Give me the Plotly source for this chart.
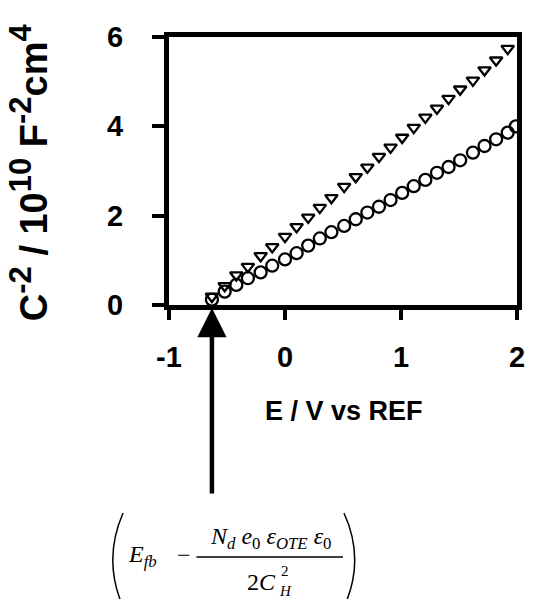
import plotly.graph_objects as go

# Mott-Schottky data: potential (V vs REF) and C^-2 (10^10 F^-2 cm^4)
e_tri = [-0.63, -0.52, -0.42, -0.32, -0.21, -0.11, 0.00, 0.10, 0.20, 0.30, 0.40, 0.51, 0.61,
         0.71, 0.81, 0.91, 1.01, 1.11, 1.21, 1.31, 1.41, 1.51, 1.62, 1.72, 1.82, 1.92]
c_tri = [0.19, 0.43, 0.67, 0.86, 1.10, 1.30, 1.53, 1.75, 1.96, 2.18, 2.40, 2.65, 2.87,
         3.08, 3.32, 3.53, 3.75, 3.97, 4.20, 4.40, 4.62, 4.83, 5.03, 5.26, 5.48, 5.74]

e_circ = [-0.63, -0.52, -0.42, -0.32, -0.21, -0.11, 0.00, 0.10, 0.20, 0.30, 0.40, 0.51, 0.61,
          0.71, 0.81, 0.91, 1.01, 1.11, 1.21, 1.31, 1.41, 1.51, 1.62, 1.72, 1.82, 1.92, 1.99]
c_circ = [0.12, 0.30, 0.45, 0.60, 0.73, 0.88, 1.02, 1.16, 1.33, 1.49, 1.63, 1.77, 1.92,
          2.07, 2.20, 2.35, 2.51, 2.66, 2.80, 2.96, 3.09, 3.24, 3.41, 3.56, 3.71, 3.86, 4.00]

x_ticks = [-1, 0, 1, 2]
y_ticks = [0, 2, 4, 6]

# flat-band potential marked by the arrow
E_FB = -0.63

W, H = 535, 599
PLOT_L, PLOT_R, PLOT_T, PLOT_B = 169, 525, 37, 305


def px(X):
    return (X - PLOT_L) / (PLOT_R - PLOT_L)


def py(Y):
    return (PLOT_B - Y) / (PLOT_B - PLOT_T)


SANS = "Liberation Sans, Arial, sans-serif"
SERIF = "Liberation Serif, Times New Roman, serif"

fig = go.Figure()
fig.add_trace(go.Scatter(
    x=e_circ, y=c_circ, mode="markers",
    marker=dict(symbol="circle-open", size=12, color="black", line=dict(width=2.3, color="black")),
    showlegend=False,
))
fig.add_trace(go.Scatter(
    x=e_tri, y=c_tri, mode="markers",
    marker=dict(symbol="triangle-down-open", size=11, color="black", line=dict(width=2.3, color="black")),
    showlegend=False,
))

axis_common = dict(
    showline=True, linewidth=5, linecolor="black", mirror=True,
    showgrid=False, zeroline=False,
    ticks="outside", tickwidth=4, tickcolor="black",
    tickfont=dict(family=SANS, size=29, color="black", weight="bold"),
)

fig.update_xaxes(range=[-1, 2], tickvals=x_ticks, ticktext=[str(v) for v in x_ticks],
                 ticklen=10, ticklabelstandoff=12, **axis_common)
fig.update_yaxes(range=[0, 6], tickvals=y_ticks, ticktext=[str(v) for v in y_ticks],
                 ticklen=12, ticklabelstandoff=23, **axis_common)


def sup(t):
    return f"<sup><span style='font-size:31px'>{t}</span></sup>"


y_title = f"<b>C{sup('-2')} / 10{sup('10')} F{sup('-2')}cm{sup('4')}</b>"

annotations = [
    # axis titles
    dict(text="<b>E / V vs REF</b>", x=px(348), y=py(411), xref="paper", yref="paper",
         xanchor="center", yanchor="middle", showarrow=False,
         font=dict(family=SANS, size=27, color="black")),
    dict(text=y_title,
         x=px(26), y=py(172), xref="paper", yref="paper", textangle=-90,
         xanchor="center", yanchor="middle", showarrow=False,
         font=dict(family=SANS, size=38, color="black")),
    # arrow pointing at the intercept
    dict(text="", x=E_FB, y=py(308), xref="x", yref="paper",
         showarrow=True, ax=0, ay=187, arrowhead=2, arrowsize=1.3, arrowwidth=4.5,
         arrowcolor="black"),
    # intercept expression
    dict(text="<i>E</i><sub><i>fb</i></sub>", x=px(125), y=py(556), xref="paper", yref="paper",
         xanchor="left", yanchor="middle", showarrow=False,
         font=dict(family=SERIF, size=24, color="black")),
    dict(text="\u2212", x=px(184), y=py(555), xref="paper", yref="paper",
         xanchor="center", yanchor="middle", showarrow=False,
         font=dict(family=SERIF, size=24, color="black")),
    dict(text="<i>N</i><sub><i>d</i></sub> <i>e</i><sub>0</sub> <i>\u03b5</i><sub><i>OTE</i></sub> <i>\u03b5</i><sub>0</sub>",
         x=px(273), y=py(538), xref="paper", yref="paper",
         xanchor="center", yanchor="middle", showarrow=False,
         font=dict(family=SERIF, size=24, color="black")),
    dict(text="2<i>C</i>", x=px(280), y=py(582), xref="paper", yref="paper",
         xanchor="right", yanchor="middle", showarrow=False,
         font=dict(family=SERIF, size=24, color="black")),
    dict(text="2", x=px(282), y=py(571), xref="paper", yref="paper",
         xanchor="left", yanchor="middle", showarrow=False,
         font=dict(family=SERIF, size=15, color="black")),
    dict(text="<i>H</i>", x=px(279), y=py(591), xref="paper", yref="paper",
         xanchor="left", yanchor="middle", showarrow=False,
         font=dict(family=SERIF, size=15, color="black")),
]

shapes = [
    # fraction bar
    dict(type="line", xref="paper", yref="paper", x0=px(197), x1=px(347), y0=py(557), y1=py(557),
         line=dict(color="black", width=1.5)),
    # large parentheses
    dict(type="path", xref="paper", yref="paper",
         path=f"M {px(122)} {py(513)} Q {px(101)} {py(560)} {px(122)} {py(607)}",
         line=dict(color="black", width=1.5)),
    dict(type="path", xref="paper", yref="paper",
         path=f"M {px(348)} {py(513)} Q {px(370)} {py(560)} {px(348)} {py(607)}",
         line=dict(color="black", width=1.5)),
]

fig.update_layout(
    width=W, height=H,
    margin=dict(l=PLOT_L, r=W - PLOT_R, t=PLOT_T, b=H - PLOT_B, pad=0),
    paper_bgcolor="white", plot_bgcolor="white",
    annotations=annotations, shapes=shapes,
    showlegend=False,
)

fig.write_html("out.html")
